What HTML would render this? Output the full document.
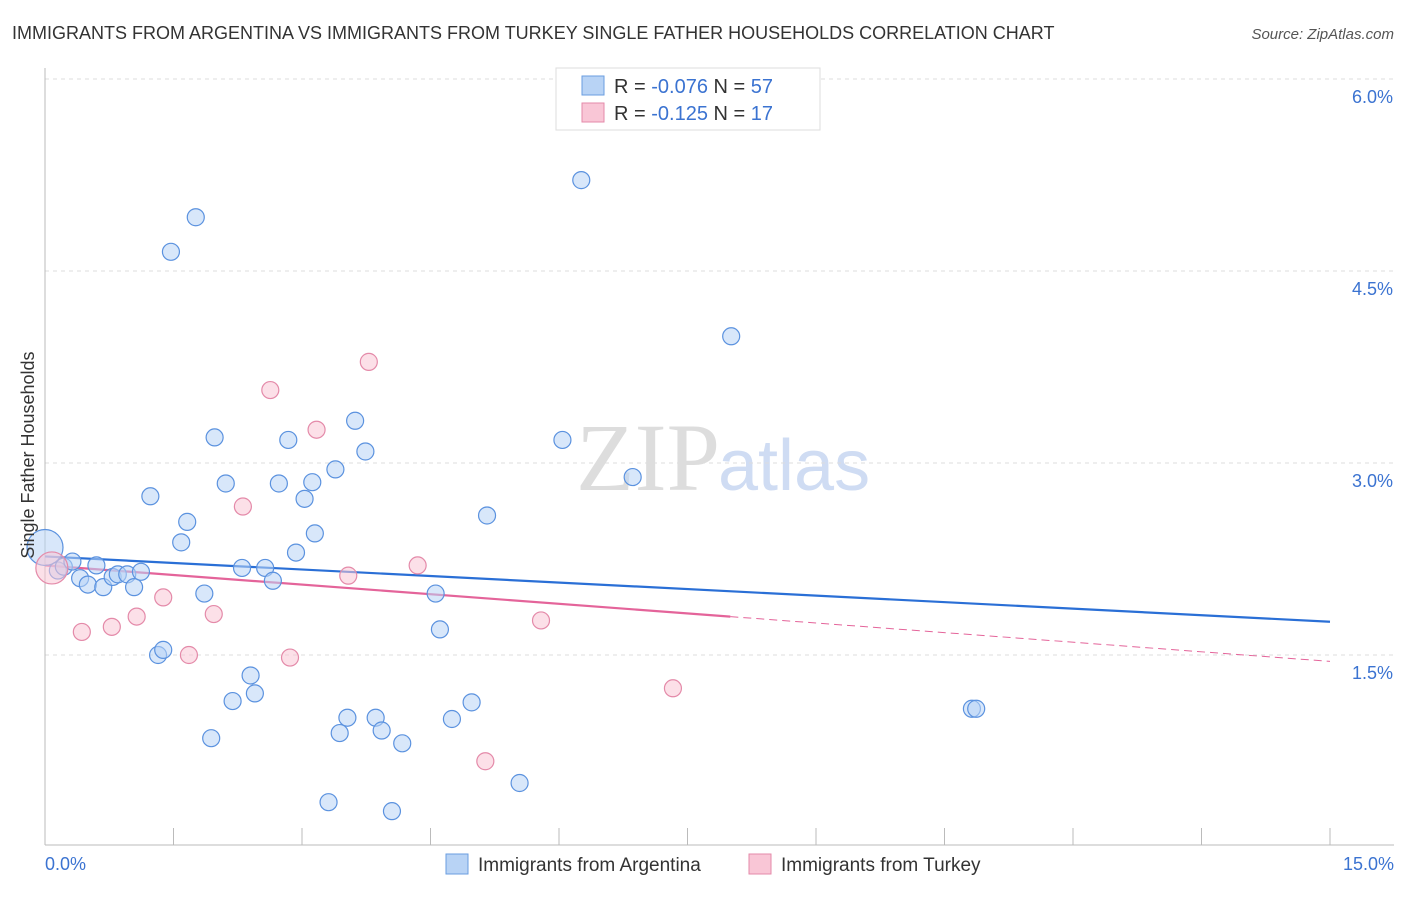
<!DOCTYPE html>
<html><head><meta charset="utf-8"><style>
body{margin:0;background:#fff;font-family:"Liberation Sans",sans-serif}
</style></head><body>
<svg id="c" width="1406" height="892" xmlns="http://www.w3.org/2000/svg" style="font-family:'Liberation Sans',sans-serif">
<text x="12" y="39" font-size="18" fill="#333">IMMIGRANTS FROM ARGENTINA VS IMMIGRANTS FROM TURKEY SINGLE FATHER HOUSEHOLDS CORRELATION CHART</text>
<text x="1394" y="39" font-size="15" fill="#555" font-style="italic" text-anchor="end">Source: ZipAtlas.com</text>
<text x="720" y="490" font-size="96" fill="#ddd" font-family="'Liberation Serif',serif" text-anchor="end">ZIP</text>
<text x="718" y="490" font-size="72" fill="#cfdcf3">atlas</text>
<g id="grid"></g><g id="axes"></g><g id="trend"></g><g id="pts"></g>
<text x="34" y="455" font-size="18" fill="#333" text-anchor="middle" transform="rotate(-90 34 455)">Single Father Households</text>
<g>
<rect x="556" y="68" width="264" height="62" fill="#fff" stroke="#ddd"/>
<rect x="582" y="76" width="22" height="19" fill="#b8d3f5" stroke="#6a9ee0"/>
<rect x="582" y="103" width="22" height="19" fill="#f9c6d6" stroke="#e48aa9"/>
<text x="614" y="93" font-size="20" fill="#333">R = <tspan fill="#3b73d1">-0.076</tspan>   N = <tspan fill="#3b73d1">57</tspan></text>
<text x="614" y="120" font-size="20" fill="#333">R =  <tspan fill="#3b73d1">-0.125</tspan>   N =  <tspan fill="#3b73d1">17</tspan></text>
</g>
<g>
<rect x="446" y="854" width="22" height="20" fill="#b8d3f5" stroke="#6a9ee0"/>
<text x="478" y="871" font-size="19" fill="#333">Immigrants from Argentina</text>
<rect x="749" y="854" width="22" height="20" fill="#f9c6d6" stroke="#e48aa9"/>
<text x="781" y="871" font-size="19" fill="#333">Immigrants from Turkey</text>
</g>
</svg>
<script>
const blueX=[0.0,0.15,0.22,0.32,0.41,0.50,0.60,0.68,0.79,0.85,0.96,1.04,1.12,1.23,1.32,1.38,1.47,1.59,1.66,1.76,1.86,1.94,1.98,2.11,2.19,2.30,2.40,2.45,2.57,2.66,2.73,2.84,2.93,3.03,3.12,3.15,3.31,3.39,3.44,3.53,3.62,3.74,3.86,3.93,4.05,4.17,4.56,4.61,4.75,4.98,5.16,5.54,6.04,6.26,6.86,8.01,10.82,10.87];
const blueY=[2.34,2.16,2.19,2.23,2.10,2.05,2.20,2.03,2.11,2.13,2.13,2.03,2.15,2.74,1.50,1.54,4.65,2.38,2.54,4.92,1.98,0.85,3.20,2.84,1.14,2.18,1.34,1.20,2.18,2.08,2.84,3.18,2.30,2.72,2.85,2.45,0.35,2.95,0.89,1.01,3.33,3.09,1.01,0.91,0.28,0.81,1.98,1.70,1.00,1.13,2.59,0.50,3.18,5.21,2.89,3.99,1.08,1.08];
const pinkX=[0.08,0.43,0.78,1.07,1.38,1.68,1.97,2.31,2.63,2.86,3.17,3.54,3.78,4.35,5.14,5.79,7.33];
const pinkY=[2.18,1.68,1.72,1.80,1.95,1.50,1.82,2.66,3.57,1.48,3.26,2.12,3.79,2.20,0.67,1.77,1.24];
const blueTrend=[2.27,1.76];
const pinkTrend=[2.20,1.45];
const pinkSolidEnd=8.0;
const yTicks=[1.5,3.0,4.5,6.0];
const xTickLabels=["0.0%","15.0%"];
const NS="http://www.w3.org/2000/svg";
const sx=v=>45+v/15*1285, sy=v=>847-v/1.5*192;
function mk(t,a,p){const e=document.createElementNS(NS,t);for(const k in a)e.setAttribute(k,a[k]);document.getElementById(p).appendChild(e);return e;}
yTicks.forEach(t=>{
 const l=mk('line',{x1:45,x2:1394,y1:sy(t),y2:sy(t),stroke:'#ddd','stroke-dasharray':'4,4'},'grid');
 
 
 const tx=mk('text',{x:1393,y:sy(t)+24,'font-size':18,fill:'#3b73d1','text-anchor':'end'},'grid');
 tx.textContent=t.toFixed(1)+'%';
 
 
});
const ax=mk('line',{x1:45,x2:45,y1:68,y2:845,stroke:'#bbb'},'axes');


const bx=mk('line',{x1:45,x2:1394,y1:845,y2:845,stroke:'#bbb'},'axes');


for(let i=1;i<=10;i++){const t=mk('line',{x1:sx(i*1.5),x2:sx(i*1.5),y1:828,y2:845,stroke:'#bbb'},'axes');
 
 }
[[45,'start',0],[1394,'end',1]].forEach(([x,a,i])=>{const t=mk('text',{x:x,y:870,'font-size':18,fill:'#3b73d1','text-anchor':a},'axes');t.textContent=xTickLabels[i];
 
 });
function pts(X,Y,fill,stroke,name,big){X.forEach((x,i)=>{const c=mk('circle',{cx:sx(x),cy:sy(Y[i]),r:i===0?big:8.5,fill:fill,stroke:stroke,'stroke-width':1.2,'fill-opacity':0.55},'pts');
 
 });}
pts(blueX,blueY,'#b8d3f5','#5b92df','argentina-point',18);
pts(pinkX,pinkY,'#f9c6d6','#e48aa9','turkey-point',16);
const bt=mk('line',{x1:sx(0),y1:sy(blueTrend[0]),x2:sx(15),y2:sy(blueTrend[1]),stroke:'#2a6fd6','stroke-width':2.2},'trend');


const pm=pinkTrend[0]+(pinkTrend[1]-pinkTrend[0])*pinkSolidEnd/15;
const pt=mk('line',{x1:sx(0),y1:sy(pinkTrend[0]),x2:sx(pinkSolidEnd),y2:sy(pm),stroke:'#e4649a','stroke-width':2.2},'trend');


const pd=mk('line',{x1:sx(pinkSolidEnd),y1:sy(pm),x2:sx(15),y2:sy(pinkTrend[1]),stroke:'#e4649a','stroke-width':1,'stroke-dasharray':'8,5'},'trend');


</script>
</body></html>
